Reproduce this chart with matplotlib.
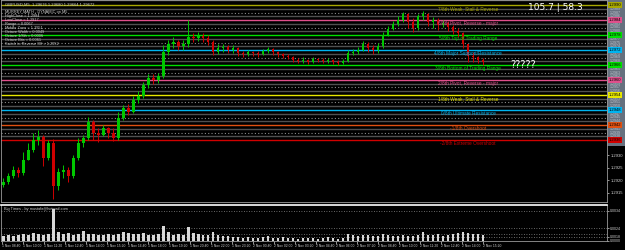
"""Gráfico de velas GBPUSD con niveles Murrey y panel de volumen."""

import matplotlib

matplotlib.use("Agg")
import matplotlib.pyplot as plt
from matplotlib.patches import Rectangle
import numpy as np


# precios de velas (apertura de cada vela = cierre anterior)
PRIMERA_APERTURA = 1.29180
CIERRES = [
    1.29192, 1.29216, 1.29240, 1.29228, 1.29280, 1.29320, 1.29360, 1.29372, 1.29288, 1.29348,
    1.29176, 1.29232, 1.29240, 1.29216, 1.29288, 1.29348, 1.29368, 1.29432, 1.29388, 1.29380,
    1.29408, 1.29388, 1.29368, 1.29448, 1.29488, 1.29472, 1.29520, 1.29536, 1.29580, 1.29608,
    1.29600, 1.29616, 1.29712, 1.29744, 1.29752, 1.29736, 1.29744, 1.29772, 1.29768, 1.29776,
    1.29768, 1.29752, 1.29712, 1.29728, 1.29732, 1.29720, 1.29728, 1.29708, 1.29704, 1.29712,
    1.29708, 1.29704, 1.29716, 1.29724, 1.29712, 1.29704, 1.29696, 1.29692, 1.29680, 1.29676,
    1.29680, 1.29672, 1.29684, 1.29680, 1.29676, 1.29680, 1.29672, 1.29668, 1.29676, 1.29708,
    1.29712, 1.29720, 1.29744, 1.29728, 1.29720, 1.29736, 1.29780, 1.29804, 1.29824, 1.29840,
    1.29864, 1.29832, 1.29808, 1.29856, 1.29864, 1.29832, 1.29840, 1.29820, 1.29828, 1.29812,
    1.29796, 1.29788, 1.29744, 1.29696, 1.29692, 1.29680, 1.29672,
]
MAXIMOS = [
    1.29208, 1.29228, 1.29256, 1.29252, 1.29312, 1.29348, 1.29388, 1.29400, 1.29380, 1.29360,
    1.29364, 1.29248, 1.29260, 1.29252, 1.29300, 1.29368, 1.29380, 1.29452, 1.29440, 1.29408,
    1.29420, 1.29412, 1.29408, 1.29472, 1.29500, 1.29504, 1.29536, 1.29556, 1.29592, 1.29624,
    1.29624, 1.29628, 1.29740, 1.29760, 1.29772, 1.29760, 1.29760, 1.29840, 1.29788, 1.29792,
    1.29788, 1.29780, 1.29760, 1.29744, 1.29744, 1.29740, 1.29740, 1.29732, 1.29716, 1.29720,
    1.29716, 1.29716, 1.29724, 1.29732, 1.29728, 1.29716, 1.29708, 1.29704, 1.29696, 1.29688,
    1.29692, 1.29684, 1.29692, 1.29688, 1.29688, 1.29688, 1.29684, 1.29680, 1.29684, 1.29720,
    1.29724, 1.29732, 1.29756, 1.29752, 1.29740, 1.29748, 1.29792, 1.29816, 1.29836, 1.29856,
    1.29872, 1.29868, 1.29848, 1.29864, 1.29876, 1.29868, 1.29852, 1.29848, 1.29840, 1.29836,
    1.29820, 1.29808, 1.29792, 1.29744, 1.29712, 1.29696, 1.29688,
]
MINIMOS = [
    1.29172, 1.29184, 1.29208, 1.29212, 1.29220, 1.29280, 1.29312, 1.29340, 1.29256, 1.29280,
    1.29124, 1.29160, 1.29208, 1.29192, 1.29208, 1.29280, 1.29332, 1.29360, 1.29360, 1.29352,
    1.29376, 1.29368, 1.29356, 1.29360, 1.29440, 1.29460, 1.29468, 1.29508, 1.29528, 1.29568,
    1.29584, 1.29588, 1.29608, 1.29700, 1.29728, 1.29720, 1.29720, 1.29732, 1.29752, 1.29756,
    1.29752, 1.29740, 1.29700, 1.29704, 1.29712, 1.29708, 1.29708, 1.29696, 1.29692, 1.29696,
    1.29696, 1.29692, 1.29700, 1.29708, 1.29700, 1.29692, 1.29688, 1.29684, 1.29672, 1.29668,
    1.29668, 1.29664, 1.29668, 1.29672, 1.29668, 1.29668, 1.29664, 1.29660, 1.29664, 1.29672,
    1.29700, 1.29704, 1.29716, 1.29712, 1.29704, 1.29708, 1.29728, 1.29776, 1.29800, 1.29816,
    1.29832, 1.29808, 1.29792, 1.29800, 1.29840, 1.29816, 1.29808, 1.29800, 1.29812, 1.29796,
    1.29784, 1.29772, 1.29728, 1.29672, 1.29672, 1.29668, 1.29660,
]
VOLUMENES = [
    500, 600, 550, 650, 700, 600, 800, 700, 650, 750,
    3200, 900, 700, 800, 650, 700, 1000, 700, 750, 650,
    600, 700, 650, 700, 900, 800, 750, 700, 850, 600,
    650, 700, 1500, 900, 600, 700, 650, 1400, 800, 700,
    600, 650, 900, 600, 550, 500, 450, 400, 350, 400,
    300, 350, 400, 500, 350, 300, 400, 350, 300, 250,
    300, 350, 300, 250, 300, 400, 300, 250, 300, 700,
    600, 500, 650, 600, 550, 500, 700, 600, 550, 500,
    600, 550, 500, 600, 900, 650, 600, 700, 550, 600,
    700, 850, 900, 800, 750, 700, 600,
]

NIVELES = [1.2990, 1.2984, 1.2978, 1.2972, 1.2966, 1.2960, 1.2954, 1.2948, 1.2942, 1.2936]
NOMBRES_NIVELES = [
    "7/8th Weak, Stall & Reverse",
    "6/8th Pivot, Reverse - major",
    "5/8th Top of Trading Range",
    "4/8th Major Support/Resistance",
    "3/8th Bottom of Trading Range",
    "2/8th Pivot, Reverse - major",
    "1/8th Weak, Stall & Reverse",
    "0/8th Ultimate Resistance",
    "-1/8th Overshoot",
    "-2/8th Extreme Overshoot",
]
COLORES_NIVELES = [
    "#a8a800", "#e0508c", "#00e000", "#00b4f0", "#00e000",
    "#e0508c", "#e8e800", "#00b4f0", "#e05010", "#d00000",
]
ETIQUETAS_TIEMPO = [
    "1 Nov 08:40", "1 Nov 10:00", "1 Nov 11:20", "1 Nov 12:40", "1 Nov 14:00", "1 Nov 15:20",
    "1 Nov 16:40", "1 Nov 18:00", "1 Nov 19:20", "1 Nov 20:40", "1 Nov 22:00", "1 Nov 23:20",
    "2 Nov 00:40", "2 Nov 02:00", "2 Nov 03:20", "2 Nov 04:40", "2 Nov 06:00", "2 Nov 07:20",
    "2 Nov 08:40", "2 Nov 10:00", "2 Nov 11:20", "2 Nov 12:40", "2 Nov 14:00", "2 Nov 15:20",
]
INFO = [
    "MURREY MATH - DYNAMIC on M5",
    "HighClose = 1.2984",
    "LowClose = 1.2917",
    "Range = 0.0067",
    "Middle Zone = 1.2951",
    "Octave Width = 0.0049",
    "Octave 1/8th = 0.0006",
    "Octave Bits = 0.0061",
    "Switch to Reverse Off = 1.2952",
]

FONDO = "black"
TEXTO = "#d0d0d0"
LETRA = ["Liberation Sans", "DejaVu Sans"]


def dibujar_velas(ax):
    cierres = np.array(CIERRES)
    aperturas = np.concatenate([[PRIMERA_APERTURA], cierres[:-1]])
    idx = np.arange(len(cierres))
    colores = np.where(cierres >= aperturas, "#00c800", "#d00000")
    ax.vlines(idx, MINIMOS, MAXIMOS, colors=colores, lw=0.7, zorder=4)
    ax.bar(idx, cierres - aperturas, bottom=aperturas, width=0.55, color=colores,
           linewidth=0, zorder=5)


def dibujar_niveles(ax):
    paso_px = 0.00004
    ax.axhline(NIVELES[0] + 5 * paso_px, color="#505050", lw=1.0, zorder=1)
    grises = []
    for arriba, abajo in zip(NIVELES[:-1], NIVELES[1:]):
        d = arriba - abajo
        ax.axhline(arriba - d * 0.24, color="#505050", lw=1.0, zorder=1)
        ax.axhline(arriba - d * 0.5, color="#8a8a8a", lw=0.8, ls=(0, (1, 2)), zorder=1)
        ax.axhline(arriba - d * 0.74, color="#505050", lw=1.0, zorder=1)
        grises += [arriba - d * 0.24, arriba - d * 0.5, arriba - d * 0.74]
    trans = ax.get_yaxis_transform()
    for precio in grises:
        ax.text(1.004, precio, f"{precio:.4f}", transform=trans, fontsize=2.6,
                family=LETRA, color="#c0c6d0", ha="left", va="center", zorder=7)
    for precio, nombre, color in zip(NIVELES, NOMBRES_NIVELES, COLORES_NIVELES):
        ax.axhline(precio, color=color, lw=1.0, zorder=2)
        ax.text(93, precio - 0.00004, nombre, color=color, fontsize=3.4, family=LETRA,
                ha="center", va="top", zorder=6)
        ax.text(1.003, precio, f"{precio:.4f}", transform=trans, family=LETRA,
                fontsize=3.0, color="black", ha="left", va="center", zorder=8,
                bbox=dict(boxstyle="square,pad=0.2", fc=color, ec="none"))


def main():
    fig = plt.figure(figsize=(6.25, 2.5), dpi=100)
    fig.patch.set_facecolor(FONDO)

    # franja gris de la escala de precios
    fig.patches.append(Rectangle((607 / 625, 1 - 146 / 250), 18 / 625, 146 / 250,
                                 transform=fig.transFigure, fc="#66717f", ec="none",
                                 zorder=-5))

    ax = fig.add_axes([0.002, 0.192, 0.969, 0.808])
    ax.set_facecolor("none")
    ax.set_xlim(-0.4, 120.8)
    ax.set_ylim(1.29112, 1.2992)
    dibujar_niveles(ax)
    dibujar_velas(ax)

    ax.yaxis.tick_right()
    ax.set_yticks([1.2930, 1.2925, 1.2920, 1.2915])
    ax.yaxis.set_major_formatter(plt.FuncFormatter(lambda v, _: f"{v:.4f}"))
    ax.tick_params(axis="y", colors=TEXTO, labelsize=3.0, length=1.5, width=0.5, pad=1)
    for t in ax.get_yticklabels():
        t.set_family(LETRA)
    ax.set_xticks([])
    for lado in ax.spines.values():
        lado.set_color("#9a9a9a")
        lado.set_linewidth(0.6)

    ax.text(0.006, 0.985, "GBPUSD,M5  1.29676 1.29680 1.29664 1.29672",
            transform=ax.transAxes, color=TEXTO, fontsize=3.0, family=LETRA, va="top")
    for k, linea in enumerate(INFO):
        ax.text(0.006, 1 - (10 + 4 * k) / 202, linea, transform=ax.transAxes,
                color=TEXTO, fontsize=2.8, family=LETRA, va="top")
    ax.text(101.4, 1.2966, "?????", color="white", fontsize=7, va="center", zorder=8)
    fig.text(583 / 625, 1 - 7 / 250, "105.7 | 58.3", color="white", fontsize=6.5,
             ha="right", va="center")

    # panel de volumen
    axv = fig.add_axes([0.002, 0.036, 0.969, 0.144])
    axv.set_facecolor(FONDO)
    axv.set_xlim(-0.4, 120.8)
    axv.set_ylim(0, 3600)
    for nivel in [3000, 1300, 700, 400]:
        axv.axhline(nivel, color="#8a8a8a", lw=0.6, ls=(0, (1, 2)), zorder=1)
    axv.bar(np.arange(len(VOLUMENES)), VOLUMENES, width=0.55, color="#d8d8d8",
            linewidth=0, zorder=3)
    axv.text(0.004, 0.95, "Big Times - by mustafa@hotmail.com", transform=axv.transAxes,
             color=TEXTO, fontsize=2.8, family=LETRA, va="top")
    axv.yaxis.tick_right()
    axv.set_yticks([3000, 1300, 400, 0])
    axv.set_yticklabels(["0.0034", "0.0024", "0.0018", "0.0000"])
    axv.tick_params(axis="y", colors=TEXTO, labelsize=2.6, length=1.5, width=0.5, pad=1)

    pos = np.arange(len(ETIQUETAS_TIEMPO)) * 20.9 / 5 - 0.2
    axv.set_xticks(pos)
    axv.set_xticklabels(ETIQUETAS_TIEMPO, ha="left")
    axv.tick_params(axis="x", colors=TEXTO, labelsize=2.4, length=2, width=0.5, pad=0.5)
    for t in axv.get_xticklabels() + axv.get_yticklabels():
        t.set_family(LETRA)
    for lado in axv.spines.values():
        lado.set_color("#9a9a9a")
        lado.set_linewidth(0.6)
    axv.spines["top"].set_color("white")
    axv.spines["top"].set_linewidth(1.2)

    fig.savefig("out.png", dpi=100, facecolor=FONDO)
    plt.close(fig)


if __name__ == "__main__":
    main()
